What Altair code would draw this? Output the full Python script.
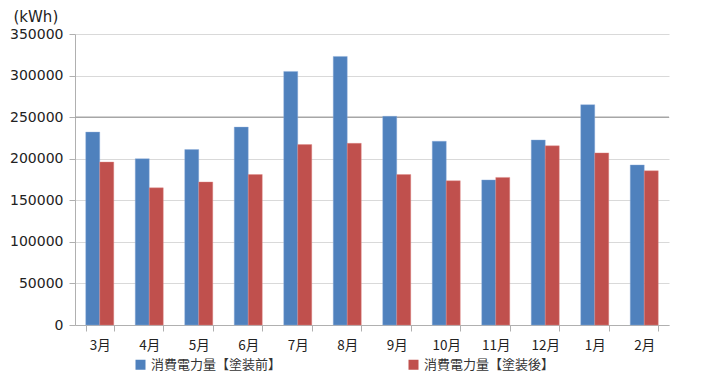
import altair as alt
import pandas as pd

months = ["3月", "4月", "5月", "6月", "7月", "8月", "9月", "10月", "11月", "12月", "1月", "2月"]
before = [232000, 200000, 211000, 238000, 305000, 323000, 251000, 221000, 174500, 222500, 265000, 192500]
after = [196000, 165000, 172000, 181000, 217000, 218500, 181000, 173500, 177500, 215500, 207000, 185500]
series = ["消費電力量【塗装前】", "消費電力量【塗装後】"]
colors = ["#4F81BD", "#C0504D"]
y_ticks = [0, 50000, 100000, 150000, 200000, 250000, 300000, 350000]

rows = []
for m, b, a in zip(months, before, after):
    rows.append({"month": m, "series": series[0], "value": b})
    rows.append({"month": m, "series": series[1], "value": a})
df = pd.DataFrame(rows)

FONT = "Noto Sans CJK JP"

bars = alt.Chart(df).mark_bar(strokeWidth=0.8, strokeOpacity=0.5).encode(
    x=alt.X("month:N", sort=months,
            scale=alt.Scale(paddingInner=0.434, paddingOuter=0.217),
            axis=alt.Axis(title=None, labelAngle=0, tickBand="extent",
                          labelFontSize=13.5, labelFont=FONT, labelColor="#222",
                          labelPadding=7, tickSize=6, domainColor="#b0b0b0",
                          tickColor="#b0b0b0", grid=False)),
    xOffset=alt.XOffset("series:N", sort=series, scale=alt.Scale(paddingInner=0, paddingOuter=0)),
    y=alt.Y("value:Q", scale=alt.Scale(domain=[0, 350000], nice=False),
            axis=alt.Axis(values=y_ticks, format="d", title="(kWh)",
                          titleAngle=0, titleX=-62, titleY=-18, titleAlign="left",
                          titleBaseline="middle", titleFontSize=15, titleFont="DejaVu Sans",
                          titleFontWeight="normal", titleColor="#222",
                          labelFontSize=14, labelFont="DejaVu Sans", labelColor="#222",
                          labelPadding=6, tickSize=6, tickColor="#b0b0b0",
                          domainColor="#b0b0b0", gridColor="#d9d9d9")),
    color=alt.Color("series:N", sort=series,
                    scale=alt.Scale(domain=series, range=colors),
                    legend=alt.Legend(title=None, orient="none", legendX=59, legendY=324,
                                      direction="horizontal", columns=2, columnPadding=125,
                                      symbolType="square", symbolSize=100, symbolStrokeWidth=0,
                                      labelFontSize=13, labelFont=FONT, labelColor="#333",
                                      labelOffset=4, padding=0)),
    stroke=alt.Stroke("series:N", sort=series,
                      scale=alt.Scale(domain=series, range=["#8fb0dc", "#e08a88"]),
                      legend=None),
)

rule250 = alt.Chart(pd.DataFrame({"v": [250000]})).mark_rule(color="#a6a6a6", strokeWidth=1.5).encode(
    y="v:Q"
)

chart = alt.layer(rule250, bars).properties(
    width=594, height=291,
    autosize=alt.AutoSizeParams(type="none"),
    padding={"left": 67, "top": 26, "right": 37, "bottom": 48},
).configure_view(stroke=None)

chart.save("out.html", embed_options={"renderer": "svg", "actions": False})
